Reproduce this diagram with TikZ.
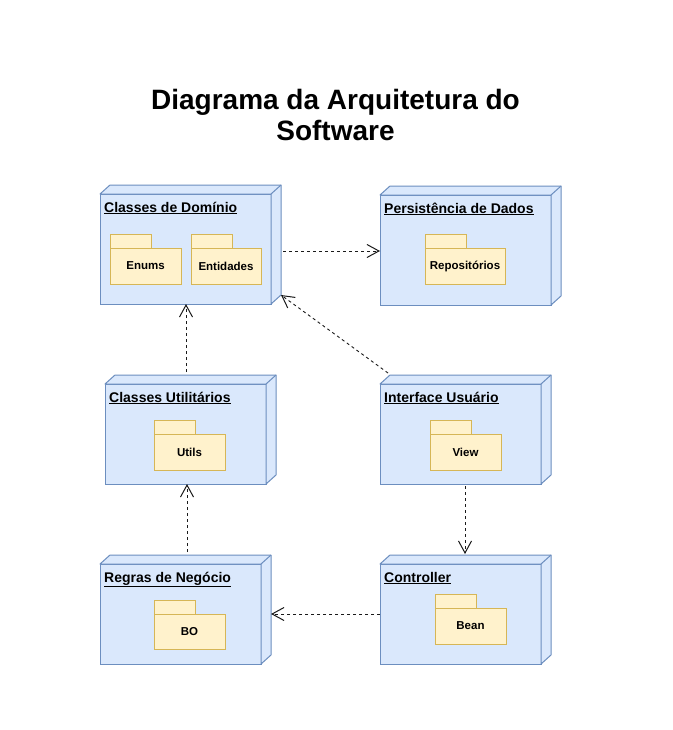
\documentclass[tikz,border=0pt]{standalone}
\usepackage{fontspec}
\setmainfont{Liberation Sans}
\usetikzlibrary{arrows.meta}

\definecolor{nodefill}{HTML}{DAE8FC}
\definecolor{nodeline}{HTML}{6C8EBF}
\definecolor{pkgfill}{HTML}{FFF2CC}
\definecolor{pkgline}{HTML}{D6B656}
\definecolor{edgeline}{HTML}{1A1A1A}

\tikzset{
  nodefront/.style={draw=nodeline, fill=nodefill, line width=1pt, rectangle,
    anchor=north west, inner sep=0pt, outer sep=0pt},
  nodeside/.style={draw=nodeline, fill=nodefill, line width=1pt, line join=round},
  nodetitle/.style={anchor=base west, inner sep=0pt,
    font=\fontsize{14}{16}\selectfont\bfseries},
  pkgbody/.style={draw=pkgline, fill=pkgfill, line width=1pt, rectangle,
    anchor=north west, inner sep=0pt, outer sep=0pt,
    font=\fontsize{11.5}{13}\selectfont\bfseries},
  pkgtab/.style={draw=pkgline, fill=pkgfill, line width=1pt},
  dep/.style={draw=edgeline, line width=0.9pt, dash pattern=on 3pt off 3pt,
    -{Straight Barb[length=12pt, width=13pt, line width=1pt]}},
  maintitle/.style={anchor=base, inner sep=0pt,
    font=\fontsize{28}{34}\selectfont\bfseries},
}

% UML deployment node: front face plus top and right faces
\newcommand{\umlnode}[6]{%
  \node[nodefront, minimum width=#4pt, minimum height=#5pt] (#1) at (#2,#3) {};
  \filldraw[nodeside] (#1.north west) -- ++(10,-9)
    -- ([shift={(10,-9)}]#1.north east) -- ([shift={(10,-9)}]#1.south east)
    -- (#1.south east) -- (#1.north east) -- cycle;
  \draw[nodeside] (#1.north east) -- ++(10,-9);
  \node[nodetitle] (#1-title) at ([shift={(4,18)}]#1.north west) {\underline{#6}};
}

% UML package: body with label and a tab on top
\newcommand{\umlpkg}[6]{%
  \node[pkgbody, minimum width=#4pt, minimum height=#5pt] (#1) at (#2,#3) {#6};
  \filldraw[pkgtab] (#1.north west) rectangle ++(41,-14);
}

\begin{document}
\begin{tikzpicture}[x=1pt, y=-1pt]
  \useasboundingbox[fill=white] (0,0) rectangle (672,730);

  \node[maintitle] (title1) at (335.5,110) {Diagrama da Arquitetura do};
  \node[maintitle] (title2) at (335.5,141) {Software};

  % nodes
  \umlnode{dom}{100}{194}{171}{110}{Classes de Domínio}
  \umlnode{per}{380}{195}{171}{110}{Persistência de Dados}
  \umlnode{uti}{105}{384}{161}{100}{Classes Utilitários}
  \umlnode{ui}{380}{384}{161}{100}{Interface Usuário}
  \umlnode{reg}{100}{564}{161}{100}{Regras de Negócio}
  \umlnode{ctl}{380}{564}{161}{100}{Controller}

  % packages
  \umlpkg{enums}{110}{248}{71}{36}{Enums}
  \umlpkg{ent}{191}{248}{70}{36}{Entidades}
  \umlpkg{repo}{425}{248}{80}{36}{Repositórios}
  \umlpkg{utils}{154}{434}{71}{36}{Utils}
  \umlpkg{view}{430}{434}{71}{36}{View}
  \umlpkg{bo}{154}{614}{71}{35}{BO}
  \umlpkg{bean}{435}{608}{71}{36}{Bean}

  % dependencies
  \draw[dep] ([shift={(12,2)}]dom.east) coordinate (domout) -- (domout -| per.west);
  \draw[dep] ([shift={(0.5,-12)}]uti.north) -- ([xshift=0.5pt]dom.south);
  \draw[dep] ([shift={(8,-11)}]ui.north west) -- ([shift={(10,-9)}]dom.south east);
  \draw[dep] ([shift={(4.5,2)}]ui.south) -- ([shift={(4.5,-10)}]ctl.north);
  \draw[dep] ([shift={(6.5,-12)}]reg.north) -- ([xshift=1.5pt]uti.south);
  \draw[dep] (ctl.west) -- ([xshift=10pt]reg.east);
\end{tikzpicture}
\end{document}
